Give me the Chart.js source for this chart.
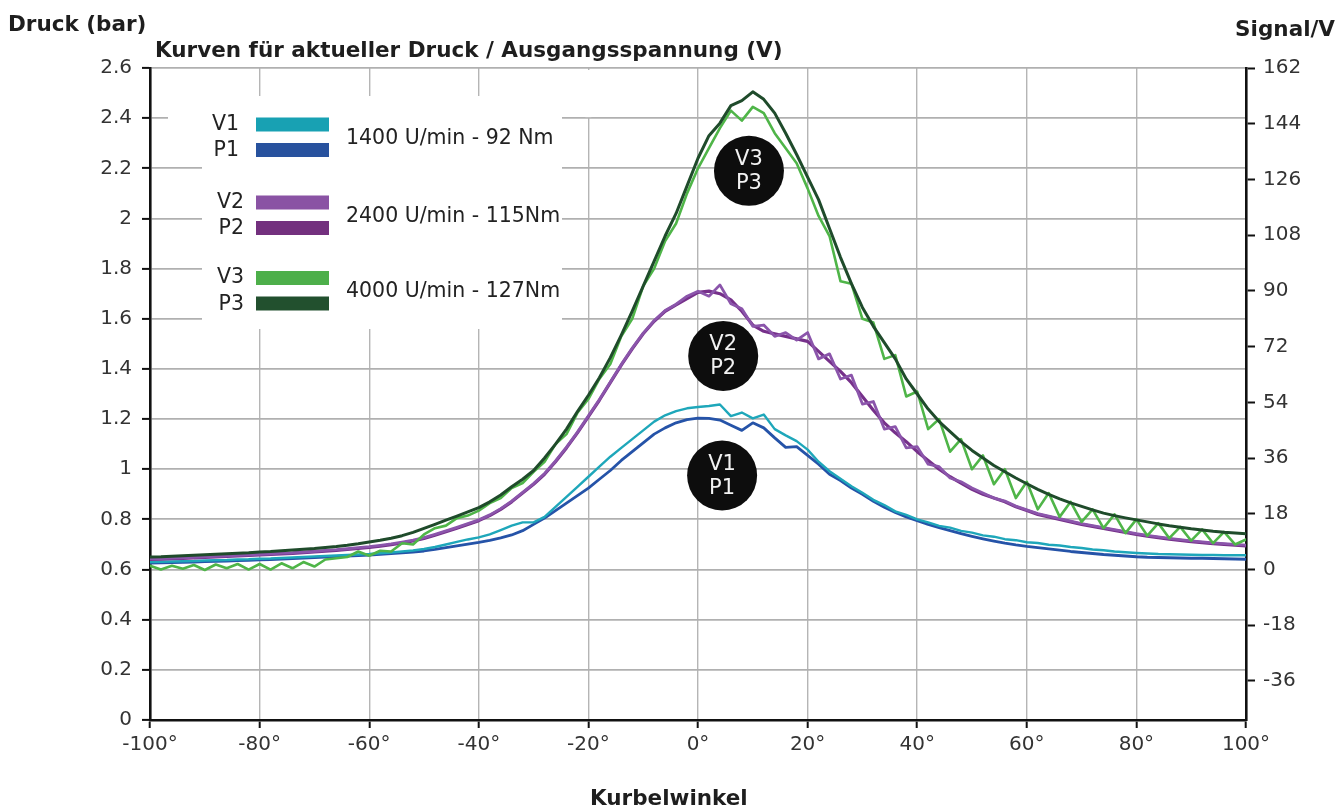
<!DOCTYPE html>
<html>
<head>
<meta charset="utf-8">
<title>Kurven für aktueller Druck / Ausgangsspannung</title>
<script src="https://cdn.jsdelivr.net/npm/chart.js@4.4.1/dist/chart.umd.min.js"></script>
<style>
  html, body { margin: 0; padding: 0; background: #ffffff; }
  #wrap { width: 1339px; height: 807px; position: relative; }
  canvas { display: block; }
</style>
</head>
<body>
<div id="wrap"><canvas id="chart" width="1339" height="807"></canvas></div>
<script>
// Crank angle (°) at which every curve is sampled
const angles = [
  -100, -98, -96, -94, -92, -90, -88, -86, -84, -82,
  -80, -78, -76, -74, -72, -70, -68, -66, -64, -62,
  -60, -58, -56, -54, -52, -50, -48, -46, -44, -42,
  -40, -38, -36, -34, -32, -30, -28, -26, -24, -22,
  -20, -18, -16, -14, -12, -10, -8, -6, -4, -2,
  0, 2, 4, 6, 8, 10, 12, 14, 16, 18,
  20, 22, 24, 26, 28, 30, 32, 34, 36, 38,
  40, 42, 44, 46, 48, 50, 52, 54, 56, 58,
  60, 62, 64, 66, 68, 70, 72, 74, 76, 78,
  80, 82, 84, 86, 88, 90, 92, 94, 96, 98,
  100
];

// Tick values
const angleTicks = [-100, -80, -60, -40, -20, 0, 20, 40, 60, 80, 100];
const druckTicks = [0, 0.2, 0.4, 0.6, 0.8, 1, 1.2, 1.4, 1.6, 1.8, 2, 2.2, 2.4, 2.6];
const signalTicks = [-36, -18, 0, 18, 36, 54, 72, 90, 108, 126, 144, 162];

// Pressure P (bar), left axis
const p1 = [
  0.626, 0.627, 0.628, 0.629, 0.630, 0.632, 0.633, 0.634, 0.636, 0.637,
  0.639, 0.640, 0.642, 0.644, 0.646, 0.648, 0.650, 0.652, 0.654, 0.656,
  0.658, 0.661, 0.664, 0.667, 0.670, 0.674, 0.680, 0.687, 0.694, 0.701,
  0.708, 0.716, 0.726, 0.738, 0.755, 0.780, 0.805, 0.835, 0.865, 0.895,
  0.925, 0.960, 0.995, 1.035, 1.070, 1.105, 1.140, 1.165, 1.185, 1.198,
  1.204, 1.203, 1.196, 1.175, 1.155, 1.185, 1.165, 1.125, 1.087, 1.090,
  1.055, 1.020, 0.980, 0.955, 0.925, 0.900, 0.872, 0.848, 0.828, 0.810,
  0.795, 0.780, 0.767, 0.755, 0.743, 0.732, 0.722, 0.713, 0.705, 0.698,
  0.692, 0.687, 0.682, 0.677, 0.672, 0.668, 0.664, 0.660, 0.657, 0.654,
  0.651, 0.649, 0.648, 0.647, 0.646, 0.645, 0.645, 0.644, 0.643, 0.642,
  0.641
];
const p2 = [
  0.640, 0.641, 0.643, 0.644, 0.646, 0.648, 0.650, 0.652, 0.654, 0.656,
  0.658, 0.660, 0.662, 0.664, 0.667, 0.670, 0.673, 0.676, 0.680, 0.684,
  0.688, 0.693, 0.699, 0.706, 0.714, 0.724, 0.737, 0.751, 0.765, 0.780,
  0.795, 0.815, 0.840, 0.870, 0.905, 0.940, 0.980, 1.030, 1.085, 1.145,
  1.210, 1.275, 1.345, 1.415, 1.480, 1.540, 1.590, 1.630, 1.655, 1.680,
  1.705, 1.710, 1.700, 1.675, 1.630, 1.575, 1.550, 1.540, 1.530, 1.520,
  1.510, 1.470, 1.430, 1.390, 1.345, 1.290, 1.235, 1.185, 1.145, 1.110,
  1.070, 1.035, 1.000, 0.970, 0.945, 0.920, 0.900, 0.885, 0.870, 0.850,
  0.835, 0.820, 0.810, 0.800, 0.790, 0.780, 0.772, 0.764, 0.756, 0.748,
  0.740, 0.733, 0.727, 0.721, 0.716, 0.711, 0.707, 0.703, 0.700, 0.697,
  0.694
];
const p3 = [
  0.650, 0.651, 0.653, 0.655, 0.657, 0.659, 0.661, 0.663, 0.665, 0.667,
  0.670, 0.672, 0.675, 0.678, 0.681, 0.684, 0.688, 0.692, 0.697, 0.703,
  0.710, 0.717, 0.725, 0.735, 0.748, 0.764, 0.780, 0.797, 0.813, 0.830,
  0.847, 0.870, 0.897, 0.930, 0.960, 0.995, 1.045, 1.100, 1.160, 1.230,
  1.295, 1.365, 1.445, 1.535, 1.630, 1.730, 1.830, 1.930, 2.020, 2.130,
  2.240, 2.330, 2.380, 2.450, 2.470, 2.505, 2.475, 2.420, 2.340, 2.255,
  2.165, 2.075, 1.960, 1.845, 1.740, 1.645, 1.570, 1.505, 1.440, 1.360,
  1.300, 1.240, 1.190, 1.150, 1.110, 1.075, 1.045, 1.015, 0.990, 0.965,
  0.942, 0.920, 0.900, 0.882, 0.866, 0.852, 0.838, 0.825, 0.815, 0.806,
  0.798, 0.790, 0.782, 0.775, 0.769, 0.763, 0.758, 0.753, 0.749, 0.746,
  0.743
];

// Output voltage V (V), right axis
const v1 = [
  2.43, 2.51, 2.59, 2.67, 2.75, 2.92, 3.00, 3.08, 3.24, 3.32,
  3.48, 3.56, 3.73, 3.89, 4.05, 4.21, 4.37, 4.54, 4.70, 4.86,
  5.02, 5.27, 5.51, 5.83, 6.16, 6.64, 7.29, 8.10, 8.91, 9.72,
  10.37, 11.34, 12.72, 14.18, 15.23, 15.23, 17.01, 20.25, 23.49, 26.73,
  29.97, 33.21, 36.45, 39.29, 42.12, 44.96, 47.79, 49.82, 51.19, 52.08,
  52.49, 52.81, 53.30, 49.57, 50.71, 48.84, 50.06, 45.36, 43.34, 41.47,
  38.72, 34.83, 31.75, 29.32, 26.89, 24.79, 22.52, 20.82, 18.79, 17.66,
  16.20, 15.23, 14.09, 13.53, 12.47, 11.91, 11.02, 10.61, 9.80, 9.48,
  8.83, 8.59, 8.02, 7.78, 7.29, 6.97, 6.48, 6.24, 5.83, 5.59,
  5.35, 5.18, 5.02, 4.94, 4.86, 4.78, 4.70, 4.70, 4.62, 4.62,
  4.62
];
const v2 = [
  3.48, 3.56, 3.73, 3.81, 3.97, 4.13, 4.29, 4.46, 4.62, 4.78,
  4.94, 5.10, 5.27, 5.43, 5.67, 5.91, 6.16, 6.40, 6.72, 7.05,
  7.37, 7.78, 8.26, 8.83, 9.48, 10.29, 11.34, 12.47, 13.61, 14.82,
  16.04, 17.66, 19.68, 22.11, 24.95, 27.78, 31.02, 35.07, 39.53, 44.39,
  49.65, 54.92, 60.59, 66.26, 71.52, 76.38, 80.43, 83.67, 85.70, 88.29,
  89.91, 88.29, 91.94, 85.86, 84.24, 78.57, 78.98, 75.33, 76.55, 74.12,
  76.55, 68.04, 69.66, 61.56, 62.78, 53.46, 54.27, 45.36, 46.17, 39.29,
  39.69, 34.02, 33.21, 29.57, 28.35, 26.33, 24.71, 23.09, 22.11, 20.49,
  19.28, 18.06, 17.25, 16.44, 15.63, 14.82, 14.18, 13.53, 12.88, 12.23,
  11.58, 11.02, 10.53, 10.04, 9.64, 9.23, 8.91, 8.59, 8.34, 8.10,
  7.86
];
const v3 = [
  1.22, 0.00, 1.22, 0.24, 1.46, -0.16, 1.62, 0.41, 1.78, 0.00,
  1.78, 0.00, 2.03, 0.41, 2.43, 0.97, 3.24, 3.65, 4.05, 5.83,
  4.46, 6.08, 5.83, 8.51, 8.10, 11.34, 13.37, 14.18, 16.61, 17.42,
  19.04, 21.47, 23.09, 26.33, 27.95, 31.59, 34.83, 40.50, 43.74, 50.63,
  55.08, 61.56, 66.42, 75.33, 81.00, 91.53, 97.20, 106.11, 111.78, 121.50,
  129.60, 136.08, 142.56, 148.23, 144.99, 149.45, 147.42, 140.94, 136.08, 131.22,
  123.12, 114.21, 107.73, 93.15, 92.34, 81.00, 79.79, 68.04, 69.26, 55.89,
  57.51, 45.36, 48.60, 38.07, 42.12, 32.40, 36.86, 27.54, 32.40, 23.09,
  28.35, 19.44, 24.71, 17.01, 21.87, 15.39, 19.44, 13.37, 17.82, 11.75,
  16.20, 10.94, 14.99, 10.13, 13.77, 9.32, 12.96, 8.51, 12.15, 8.10,
  9.72
];

// Legend groups and curve badges
const seriesNames = ['V1', 'P1', 'V2', 'P2', 'V3', 'P3'];
const operatingPoints = ['1400 U/min - 92 Nm', '2400 U/min - 115Nm', '4000 U/min - 127Nm'];
const badgeAngles = [4.4, 4.6, 9.3];
const badgeDruck = [0.975, 1.452, 2.19];

const COLORS = {
  V1: '#1ea7ba', P1: '#2553a8',
  V2: '#8b55ab', P2: '#76308a',
  V3: '#4fb548', P3: '#1f4b2b'
};
const SWATCH = {
  V1: '#18a1b3', P1: '#28529e',
  V2: '#8a53a4', P2: '#73307e',
  V3: '#4daf4a', P3: '#22502e'
};

const FONT = '"DejaVu Sans", "Liberation Sans", Arial, sans-serif';

function pts(values) {
  return angles.map((a, i) => ({ x: a, y: values[i] }));
}

function line(name, values, axis, width, order) {
  return {
    label: name,
    data: pts(values),
    yAxisID: axis,
    borderColor: COLORS[name],
    backgroundColor: COLORS[name],
    borderWidth: width,
    borderJoinStyle: 'round',
    borderCapStyle: 'round',
    pointRadius: 0,
    tension: 0,
    fill: false,
    order: order
  };
}

const decorations = {
  id: 'decorations',
  beforeDatasetsDraw(chart) {
    const { ctx, scales } = chart;
    ctx.save();
    ctx.fillStyle = '#ffffff';
    // white panel behind the legend
    ctx.fillRect(202, 96, 360, 233);
    ctx.fillRect(168, 110, 40, 14);
    // the -20° grid line stops at the 2.4 bar line
    const gx = scales.x.getPixelForValue(-20);
    const gTop = scales.y.getPixelForValue(2.6);
    const gBot = scales.y.getPixelForValue(2.4);
    ctx.fillRect(gx - 3, gTop + 2, 6, gBot - gTop - 3);
    ctx.restore();
  },
  afterDatasetsDraw(chart) {
    const { ctx, scales } = chart;
    const xs = scales.x, ys = scales.y;
    ctx.save();
    for (let i = 0; i < 3; i++) {
      const cx = xs.getPixelForValue(badgeAngles[i]);
      const cy = ys.getPixelForValue(badgeDruck[i]);
      ctx.beginPath();
      ctx.arc(cx, cy, 35, 0, Math.PI * 2);
      ctx.fillStyle = '#0d0d0d';
      ctx.fill();
      ctx.fillStyle = '#f2f2f2';
      ctx.font = '21px ' + FONT;
      ctx.textAlign = 'center';
      ctx.textBaseline = 'middle';
      ctx.fillText(seriesNames[i * 2], cx, cy - 11);
      ctx.fillText(seriesNames[i * 2 + 1], cx, cy + 13);
    }
    ctx.restore();
  },
  afterDraw(chart) {
    const { ctx } = chart;
    ctx.save();
    ctx.fillStyle = '#1e1e1e';
    ctx.textBaseline = 'alphabetic';
    ctx.font = 'bold 21.5px ' + FONT;
    ctx.textAlign = 'left';
    ctx.fillText('Druck (bar)', 8, 31);
    ctx.fillText('Kurven für aktueller Druck / Ausgangsspannung (V)', 155, 57);
    ctx.textAlign = 'right';
    ctx.fillText('Signal/V', 1335, 36);
    ctx.textAlign = 'left';
    ctx.fillText('Kurbelwinkel', 590, 805);

    // legend
    const groupY = [124.5, 202.5, 278];
    for (let g = 0; g < 3; g++) {
      const vName = seriesNames[g * 2], pName = seriesNames[g * 2 + 1];
      const yV = groupY[g], yP = groupY[g] + 25.5;
      ctx.fillStyle = SWATCH[vName];
      ctx.fillRect(256, yV - 7, 73, 14);
      ctx.fillStyle = SWATCH[pName];
      ctx.fillRect(256, yP - 7, 73, 14);
      ctx.fillStyle = '#222222';
      ctx.font = '20.5px ' + FONT;
      ctx.textAlign = 'right';
      ctx.textBaseline = 'middle';
      const lx = g === 0 ? 239 : 244;
      ctx.fillText(vName, lx, yV);
      ctx.fillText(pName, lx, yP + 1);
      ctx.textAlign = 'left';
      ctx.fillText(operatingPoints[g], 346, (yV + yP) / 2 + 1);
    }
    ctx.restore();
  }
};

const tickFont = { family: FONT, size: 20 };

new Chart(document.getElementById('chart'), {
  type: 'line',
  data: {
    datasets: [
      line('P3', p3, 'y', 3, 1),
      line('V3', v3, 'y2', 2.6, 2),
      line('V2', v2, 'y2', 2.8, 3),
      line('P2', p2, 'y', 3.2, 4),
      line('V1', v1, 'y2', 2.4, 5),
      line('P1', p1, 'y', 2.8, 6)
    ]
  },
  options: {
    responsive: false,
    animation: false,
    devicePixelRatio: 1,
    layout: { padding: { top: 68, left: 0, right: 0, bottom: 0 } },
    plugins: {
      legend: { display: false },
      title: { display: false },
      tooltip: { enabled: false }
    },
    scales: {
      x: {
        type: 'linear',
        min: -100,
        max: 100,
        afterBuildTicks(scale) { scale.ticks = angleTicks.map(v => ({ value: v })); },
        afterFit(scale) { scale.height = 87; },
        grid: {
          color: '#b5b5b5',
          lineWidth: 1.4,
          drawTicks: true,
          tickLength: 8,
          tickColor: '#111111',
          tickWidth: 2
        },
        border: { display: true, color: '#111111', width: 2.6 },
        ticks: {
          color: '#333333',
          font: tickFont,
          padding: 5,
          maxRotation: 0,
          autoSkip: false,
          callback: v => v + '°'
        }
      },
      y: {
        type: 'linear',
        position: 'left',
        min: 0,
        max: 2.6,
        afterBuildTicks(scale) { scale.ticks = druckTicks.map(v => ({ value: v })); },
        afterFit(scale) { scale.width = 150; },
        grid: {
          color: '#b0b0b0',
          lineWidth: 1.8,
          drawTicks: true,
          tickLength: 8,
          tickColor: '#111111',
          tickWidth: 2
        },
        border: { display: true, color: '#111111', width: 2.6 },
        ticks: {
          color: '#333333',
          font: tickFont,
          padding: 10,
          autoSkip: false,
          callback: v => String(v)
        }
      },
      y2: {
        type: 'linear',
        position: 'right',
        min: -48.6,
        max: 162,
        afterBuildTicks(scale) { scale.ticks = signalTicks.map(v => ({ value: v })); },
        afterFit(scale) { scale.width = 93; },
        grid: {
          drawOnChartArea: false,
          drawTicks: true,
          tickLength: 9,
          tickColor: '#111111',
          tickWidth: 2
        },
        border: { display: true, color: '#111111', width: 2.6 },
        ticks: {
          color: '#333333',
          font: tickFont,
          padding: 8,
          autoSkip: false,
          callback: v => String(v)
        }
      }
    }
  },
  plugins: [decorations]
});
</script>
</body>
</html>
